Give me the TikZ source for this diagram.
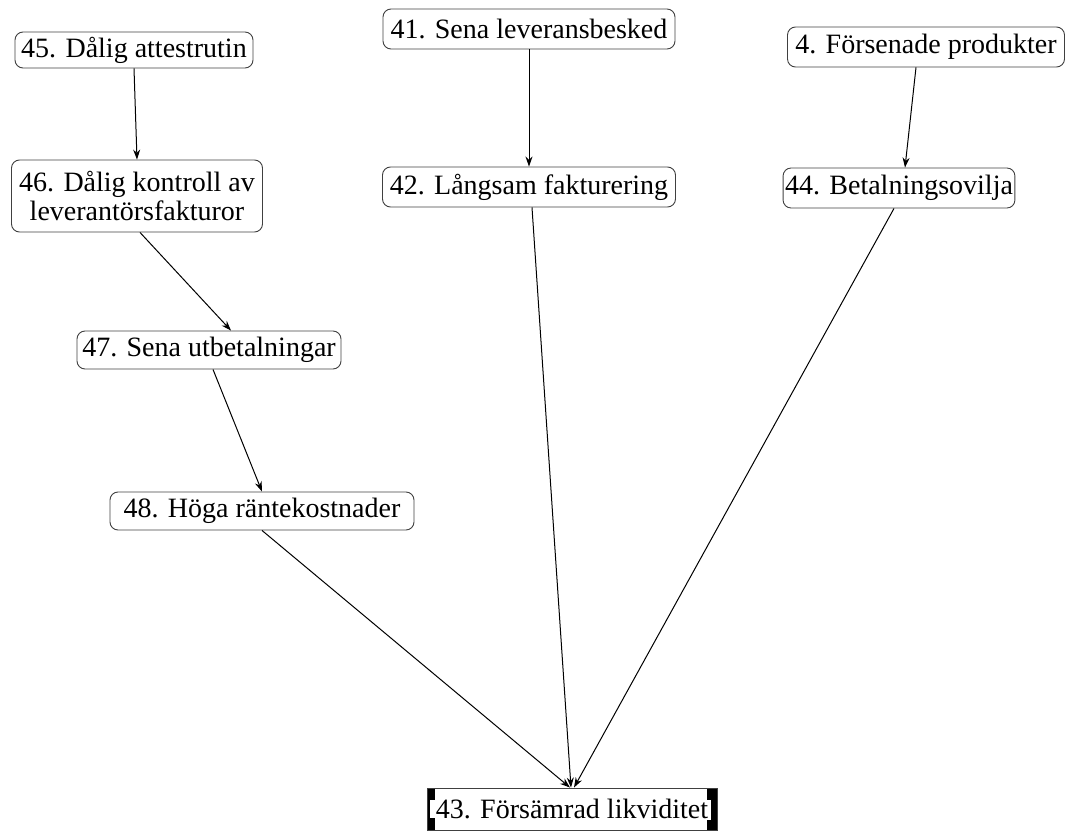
\documentclass[tikz,border=0pt]{standalone}
\usepackage{fontspec}
\setmainfont{Liberation Serif}
\usetikzlibrary{arrows.meta,backgrounds}
\begin{document}
\begin{tikzpicture}[x=1pt,y=-1pt,
  box/.style={draw=black!75, line width=0.9pt, rounded corners=8pt, inner xsep=2pt, inner ysep=0pt,
              font=\fontsize{28}{29}\selectfont, align=center},
  sel/.style={draw=black!75, line width=0.9pt, inner xsep=2pt, inner ysep=0pt,
              font=\fontsize{28}{29}\selectfont},
  arr/.style={-{Stealth[length=10pt,width=7pt]}, line width=1pt}]
\useasboundingbox (0,0) rectangle (1069,832);

% causes
\node[box, minimum width=238pt, minimum height=36pt] (n45) at (134,50)  {45. Dålig attestrutin};
\node[box, minimum width=292pt, minimum height=40pt] (n41) at (529,29)  {41. Sena leveransbesked};
\node[box, minimum width=277pt, minimum height=40pt] (n4)  at (926,47)  {4. Försenade produkter};
\node[box, minimum width=251pt, minimum height=72pt] (n46) at (137,196) {46. Dålig kontroll av\\leverantörsfakturor};
\node[box, minimum width=293pt, minimum height=40pt] (n42) at (529,187) {42. Långsam fakturering};
\node[box, minimum width=223pt, minimum height=40pt] (n44) at (899,188) {44. Betalningsovilja};
\node[box, minimum width=264pt, minimum height=38pt] (n47) at (209,350) {47. Sena utbetalningar};
\node[box, minimum width=304pt, minimum height=38pt] (n48) at (262,511) {48. Höga räntekostnader};

% effect (selected node, handles drawn beneath its text)
\node[sel, minimum width=290pt, minimum height=42pt] (n43) at (572,809) {43. Försämrad likviditet};
\begin{scope}[on background layer]
\fill (n43.north west) rectangle ([xshift=8pt]n43.south west);
\fill[white] ([xshift=3pt,yshift=-12pt]n43.north west) rectangle ([xshift=8pt,yshift=12pt]n43.south west);
\fill ([xshift=-10pt]n43.north east) rectangle (n43.south east);
\fill[white] ([xshift=-10pt,yshift=-12pt]n43.north east) rectangle ([xshift=-6pt,yshift=10pt]n43.south east);
\end{scope}

% links
\draw[arr] (n45.south) -- (n46.north);
\draw[arr] (n41.south) -- (n42.north);
\draw[arr] ([xshift=-10pt]n4.south) -- ([xshift=6pt]n44.north);
\draw[arr] ([xshift=3pt]n46.south) -- ([xshift=22pt]n47.north);
\draw[arr] ([xshift=4pt]n47.south) -- (n48.north);
\draw[arr] (n48.south) -- ([xshift=-2pt]n43.north);
\draw[arr] ([xshift=3pt]n42.south) -- ([xshift=-1pt]n43.north);
\draw[arr] ([xshift=-5pt]n44.south) -- ([xshift=2pt]n43.north);
\end{tikzpicture}
\end{document}
